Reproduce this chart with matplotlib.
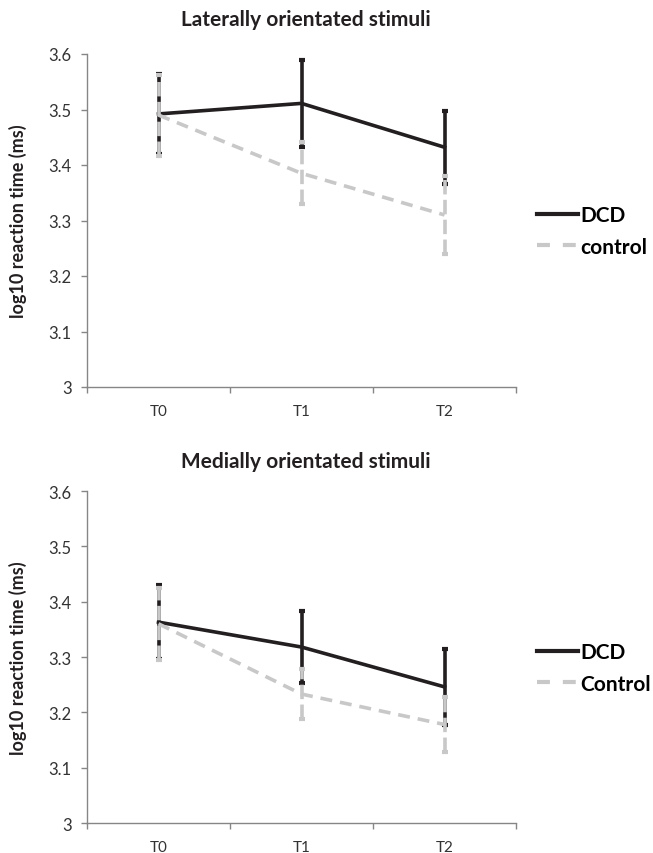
import matplotlib
matplotlib.use('Agg')
import matplotlib.pyplot as plt
from matplotlib.lines import Line2D

plt.rcParams['font.family'] = ['Lato', 'DejaVu Sans']

# data
timepoints = ['T0', 'T1', 'T2']

lat_dcd = [3.492, 3.511, 3.432]
lat_dcd_err = [0.072, 0.078, 0.066]
lat_ctrl = [3.490, 3.385, 3.310]
lat_ctrl_err = [0.073, 0.056, 0.070]

med_dcd = [3.363, 3.318, 3.246]
med_dcd_err = [0.067, 0.065, 0.069]
med_ctrl = [3.360, 3.233, 3.178]
med_ctrl_err = [0.065, 0.045, 0.050]

titles = ['Laterally orientated stimuli', 'Medially orientated stimuli']
ctrl_names = ['control', 'Control']

yticks = [3.0, 3.1, 3.2, 3.3, 3.4, 3.5, 3.6]
ytick_labels = ['3', '3.1', '3.2', '3.3', '3.4', '3.5', '3.6']

BLACK = '#231f20'
GREY = '#c8c8c8'
AXIS = '#868686'

W, H = 653, 854
fig = plt.figure(figsize=(W / 100, H / 100), dpi=100)


def draw_panel(ax, dcd, dcd_err, ctrl, ctrl_err):
    x = list(range(len(timepoints)))
    ax.errorbar(x, dcd, yerr=dcd_err, color=BLACK, lw=2.6, capsize=2,
                capthick=3, elinewidth=2.6, zorder=3)
    eb = ax.errorbar(x, ctrl, yerr=ctrl_err, color=GREY, lw=2.6, capsize=2,
                     capthick=3, elinewidth=2.6, dashes=(3.3, 2.2), zorder=4)
    eb[2][0].set_linestyle((0, (4, 1.5)))
    ax.set_xlim(-0.5, 2.5)
    ax.set_ylim(3.0, 3.6)
    ax.set_yticks(yticks)
    ax.set_yticklabels(ytick_labels)
    ax.set_xticks([-0.5, 0.5, 1.5, 2.5])
    ax.set_xticklabels([])
    ax.set_xticks(x, minor=True)
    ax.set_xticklabels(timepoints, minor=True)
    ax.tick_params(axis='x', which='minor', length=0, pad=12,
                   labelsize=11, labelcolor='#333333')
    ax.tick_params(axis='both', which='major', direction='out', length=4,
                   color=AXIS, width=1, labelsize=12, labelcolor='#333333',
                   pad=7)
    for s in ['top', 'right']:
        ax.spines[s].set_visible(False)
    for s in ['left', 'bottom']:
        ax.spines[s].set_color(AXIS)
        ax.spines[s].set_linewidth(1)
    ax.set_ylabel('log10 reaction time (ms)', fontsize=13, fontweight='bold',
                  color=BLACK)
    ax.yaxis.set_label_coords(-0.14, 0.5)


left = 87 / W
width = (516 - 87) / W
ax1 = fig.add_axes([left, 1 - 388 / H, width, (388 - 55) / H])
ax2 = fig.add_axes([left, 1 - 824 / H, width, (824 - 492) / H])

draw_panel(ax1, lat_dcd, lat_dcd_err, lat_ctrl, lat_ctrl_err)
draw_panel(ax2, med_dcd, med_dcd_err, med_ctrl, med_ctrl_err)

fig.text(306 / W, 1 - 20 / H, titles[0], ha='center', va='center',
         fontsize=15, fontweight='bold', color=BLACK)
fig.text(306 / W, 1 - 462 / H, titles[1], ha='center', va='center',
         fontsize=15, fontweight='bold', color=BLACK)

for ymid, cname in zip([232, 669], ctrl_names):
    handles = [Line2D([], [], color=BLACK, lw=3),
               Line2D([], [], color=GREY, lw=3, dashes=(3.1, 3.1))]
    fig.legend(handles, ['DCD', cname], loc='center left',
               bbox_to_anchor=(537 / W, 1 - ymid / H), frameon=False,
               borderaxespad=0, borderpad=0, handlelength=1.95,
               handletextpad=0.12, labelspacing=0.55,
               prop={'weight': 'bold', 'size': 15})

fig.savefig('out.png', dpi=100)
